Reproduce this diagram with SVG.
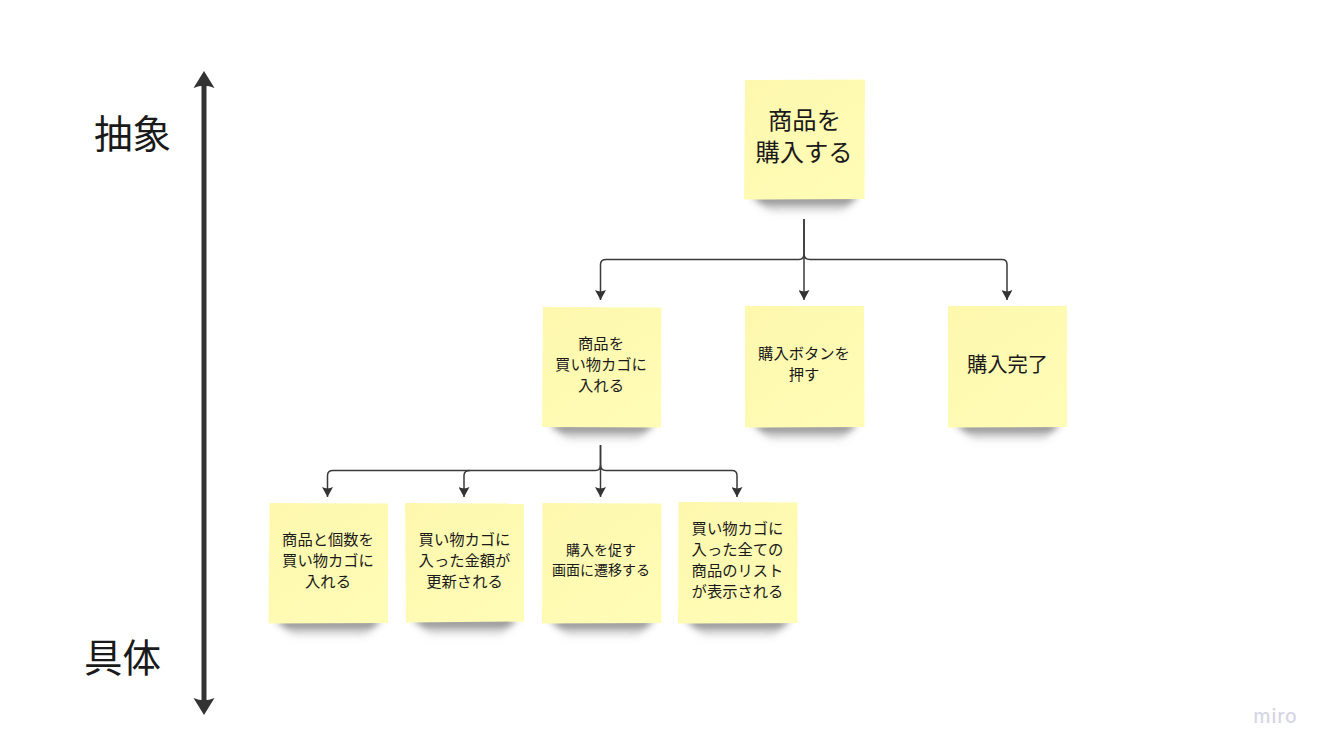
<svg xmlns="http://www.w3.org/2000/svg" width="1327" height="753" viewBox="0 0 1327 753">
<style>
text{font-family:"Noto Sans CJK JP","Noto Sans",sans-serif;fill:#1a1a1a;text-anchor:middle;dominant-baseline:central}
.s{font-size:15.300px}.t{font-size:14px}.m{font-size:20.300px}.l{font-size:24.300px}.x{font-size:38.500px}
.note{fill:url(#paper)}
.shadow{fill:url(#shade);filter:url(#blur)}
.c{fill:none;stroke:#3a3a3a;stroke-width:1.5}
.axis{fill:none;stroke:#333;stroke-width:5}
</style>
<defs>
<linearGradient id="paper" x1="0" y1="0" x2="0.7" y2="1">
<stop offset="0" stop-color="#fef8ae"/><stop offset="1" stop-color="#fffcb6"/>
</linearGradient>
<linearGradient id="shade" x1="0" y1="0" x2="0" y2="1">
<stop offset="0" stop-color="#333" stop-opacity=".8"/><stop offset="1" stop-color="#888" stop-opacity="0"/>
</linearGradient>
<filter id="blur" x="-20%" y="-100%" width="140%" height="300%"><feGaussianBlur stdDeviation="3.500"/></filter>
<marker id="a" viewBox="0 0 9 10" refX="9" refY="5" markerWidth="10" markerHeight="11" markerUnits="userSpaceOnUse" orient="auto"><path d="M0 0Q2.500 5 0 10L9 5Z" fill="#333"/></marker>
</defs>
<rect width="1327" height="753" fill="#fff"/>
<g id="connectors">
<path class="c" marker-end="url(#a)" d="M804 219V254Q804 259.500 799 259.500H606Q600.500 259.500 600.500 264.500V300"/>
<path class="c" marker-end="url(#a)" d="M804 219V300"/>
<path class="c" marker-end="url(#a)" d="M804 254Q804 259.500 810 259.500H1002Q1007 259.500 1007 264.500V300"/>
<path class="c" marker-end="url(#a)" d="M600.500 445V465Q600.500 470.500 595.500 470.500H333Q327.500 470.500 327.500 475.500V497"/>
<path class="c" marker-end="url(#a)" d="M470 470.500Q464 470.500 464 475.500V497"/>
<path class="c" marker-end="url(#a)" d="M600.500 445V497"/>
<path class="c" marker-end="url(#a)" d="M600.500 465Q600.500 470.500 606 470.500H732Q737 470.500 737 475.500V497"/>
<path class="axis" d="M204 80V705"/>
<path d="M204 71L214.500 88Q204 83.500 193.500 88Z" fill="#333"/>
<path d="M204 715L214.500 698Q204 702.500 193.500 698Z" fill="#333"/>
</g>
<g id="note-top"><path class="shadow" d="M752 196H858L840 214H772Z"/><path class="note" d="M745 80L865 79.500L864.500 199L744 199.500Z"/>
<text class="l" x="804.500" y="118">商品を</text><text class="l" x="804" y="150">購入する</text></g>
<g id="note-cart"><path class="shadow" d="M550 424H654L636 442H570Z"/><path class="note" d="M543 307L661.500 307.500L661 427.500L542 427Z"/>
<text class="s" x="601" y="342">商品を</text><text class="s" x="601" y="363">買い物カゴに</text><text class="s" x="601" y="384">入れる</text></g>
<g id="note-button"><path class="shadow" d="M753 424H857L839 442H773Z"/><path class="note" d="M745 306H864L864.500 427L745 427.500Z"/>
<text class="s" x="804" y="352">購入ボタンを</text><text class="s" x="804" y="373">押す</text></g>
<g id="note-done"><path class="shadow" d="M956 424H1060L1042 442H976Z"/><path class="note" d="M948 306H1067V427L948 427.500Z"/>
<text class="m" x="1007.500" y="363">購入完了</text></g>
<g id="note-add"><path class="shadow" d="M276 620H381L363 638H296Z"/><path class="note" d="M269.500 503L388 503.500V623L268.500 623.500Z"/>
<text class="s" x="328" y="538">商品と個数を</text><text class="s" x="328" y="559">買い物カゴに</text><text class="s" x="328" y="580">入れる</text></g>
<g id="note-total"><path class="shadow" d="M413 619H517L499 637H433Z"/><path class="note" d="M405 503L524 503.500V621.500L406 622.500Z"/>
<text class="s" x="464.500" y="538">買い物カゴに</text><text class="s" x="464.500" y="559">入った金額が</text><text class="s" x="464.500" y="580">更新される</text></g>
<g id="note-screen"><path class="shadow" d="M550 620H654L636 638H570Z"/><path class="note" d="M542.500 503L661.500 503.500V623L542 623.500Z"/>
<text class="t" x="601" y="549">購入を促す</text><text class="t" x="601" y="569">画面に遷移する</text></g>
<g id="note-list"><path class="shadow" d="M686 620H790L772 638H706Z"/><path class="note" d="M678.500 502L797.500 502.500V623L678 623.500Z"/>
<text class="s" x="737.500" y="527">買い物カゴに</text><text class="s" x="737.500" y="548">入った全ての</text><text class="s" x="737.500" y="569">商品のリスト</text><text class="s" x="737.500" y="590">が表示される</text></g>
<g id="label-abstract"><text class="x" x="132.500" y="131">抽象</text></g>
<g id="label-concrete"><text class="x" x="122.500" y="655">具体</text></g>
<g id="logo"><text x="1275.500" y="716" style="font-family:'Inter','Noto Sans',sans-serif;font-size:19.500px;font-weight:500;fill:#d6d6e4;letter-spacing:.8px">miro</text></g>
</svg>
